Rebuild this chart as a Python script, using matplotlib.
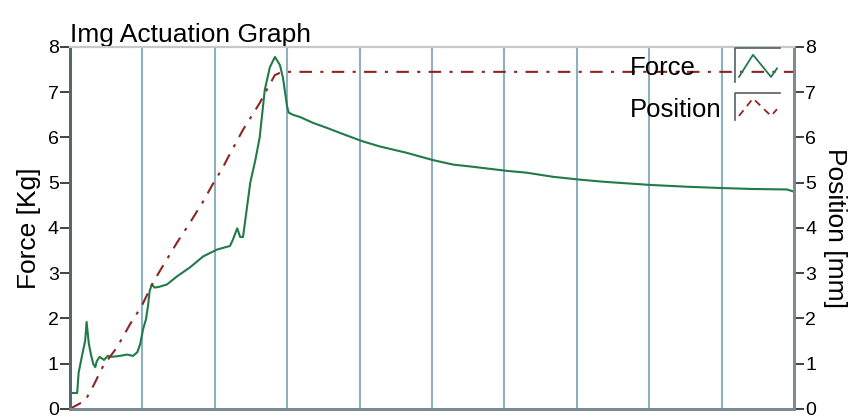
import numpy as np
import matplotlib
matplotlib.use('Agg')
import matplotlib.pyplot as plt
from matplotlib.lines import Line2D

plt.rcParams['font.family'] = ['Liberation Sans', 'DejaVu Sans']

# данные (x в делениях сетки 0..10)
force_x = [0, 0.10, 0.12, 0.17, 0.21, 0.23, 0.26, 0.29, 0.32, 0.35, 0.37, 0.41,
           0.47, 0.52, 0.58, 0.69, 0.79, 0.87, 0.93, 0.97, 1.01, 1.05, 1.08,
           1.10, 1.13, 1.17, 1.24, 1.34, 1.48, 1.66, 1.84, 2.03, 2.14, 2.21,
           2.25, 2.31, 2.35, 2.39, 2.44, 2.49, 2.56, 2.62, 2.69, 2.76, 2.83,
           2.90, 2.94, 3.00, 3.02, 3.08, 3.18, 3.36, 3.55, 3.73, 4.03, 4.28,
           4.65, 5.01, 5.29, 5.57, 6.04, 6.31, 6.67, 7.02, 7.37, 8.01, 8.52,
           9.02, 9.43, 9.90, 10.0]
force_y = [0.35, 0.35, 0.8, 1.2, 1.5, 1.92, 1.45, 1.2, 1.0, 0.92, 1.05, 1.15,
           1.08, 1.17, 1.15, 1.17, 1.2, 1.17, 1.25, 1.43, 1.76, 1.98, 2.3,
           2.6, 2.75, 2.68, 2.7, 2.75, 2.93, 3.13, 3.37, 3.52, 3.57, 3.6,
           3.74, 3.99, 3.8, 3.8, 4.4, 5.0, 5.5, 6.0, 7.05, 7.55, 7.78,
           7.6, 7.33, 6.67, 6.55, 6.5, 6.45, 6.32, 6.21, 6.1, 5.92, 5.8,
           5.66, 5.5, 5.4, 5.35, 5.26, 5.22, 5.13, 5.07, 5.02, 4.95, 4.91,
           4.88, 4.86, 4.85, 4.8]

pos_x = [0, 0.21, 0.32, 0.46, 0.65, 0.83, 0.99, 1.15, 1.28, 1.48, 1.64, 1.83,
         1.97, 2.11, 2.18, 2.39, 2.62, 2.73, 2.83, 2.93, 10.0]
pos_y = [0, 0.18, 0.5, 0.95, 1.36, 1.87, 2.27, 2.8, 3.15, 3.68, 4.07, 4.56,
         4.96, 5.33, 5.55, 6.17, 6.76, 7.09, 7.38, 7.45, 7.45]

y_ticks = [0, 1, 2, 3, 4, 5, 6, 7, 8]
legend_labels = ['Force', 'Position']

green = '#217a48'
red = '#8e2424'
pos_dash = (6, 4, 1.5, 4)

W, H = 853, 418


def fx(px):
    return px / W


def fy(py):
    return 1 - py / H


fig = plt.figure(figsize=(8.53, 4.18), dpi=100)
ax = fig.add_axes([0.082, 0.022, 0.849, 0.8656])
ax2 = ax.twinx()

for gx in range(1, 10):
    ax.axvline(gx, color='#8fb1bd', lw=1.5, zorder=0)

ax.plot(force_x, force_y, color=green, lw=1.5)
ax2.plot(pos_x, pos_y, color=red, lw=1.5, dashes=pos_dash)

ax.set_xlim(0, 10)
ax.set_ylim(0, 8)
ax2.set_ylim(0, 8)
ax.set_xticks([])
ax.set_yticks(y_ticks)
ax2.set_yticks(y_ticks)
ax.tick_params(axis='y', labelsize=14, length=7, width=1.3, color='#333333', pad=1)
ax2.tick_params(axis='y', labelsize=14, length=7, width=1.3, color='#333333', pad=1)

for a in (ax, ax2):
    a.spines['left'].set_color('#56666d')
    a.spines['left'].set_linewidth(2)
    a.spines['bottom'].set_color('#7b8a90')
    a.spines['bottom'].set_linewidth(2)
    a.spines['top'].set_color('#c3cacd')
    a.spines['top'].set_linewidth(1.5)
    a.spines['right'].set_color('#7d8a90')
    a.spines['right'].set_linewidth(2)

ax.set_ylabel('Force [Kg]', fontsize=19, labelpad=5)
ax2.set_ylabel('Position [mm]', fontsize=19, rotation=270, labelpad=22)
ax.set_title('Img Actuation Graph', loc='left', fontsize=19, pad=3)

# легенда как в LabVIEW: подпись слева, иконка в рамке справа
rows = [(68, 48, 82, green, None), (110, 93, 120, red, (4, 3))]
for label, (ty, top, bot, col, dsh) in zip(legend_labels, rows):
    fig.text(fx(630), fy(ty), label, fontsize=18.5, va='center', ha='left',
             zorder=5)
    fig.add_artist(Line2D([fx(780), fx(735), fx(735)], [fy(top), fy(top), fy(bot)],
                          color='#555f63', lw=1.2, transform=fig.transFigure))
    h = bot - top
    zig = Line2D([fx(739), fx(753), fx(771), fx(777)],
                 [fy(bot - 0.15 * h), fy(top + 0.2 * h), fy(bot - 0.15 * h),
                  fy(bot - 0.4 * h)],
                 color=col, lw=1.3, transform=fig.transFigure)
    if dsh:
        zig.set_dashes(dsh)
    fig.add_artist(zig)

fig.savefig('out.png', dpi=100)
